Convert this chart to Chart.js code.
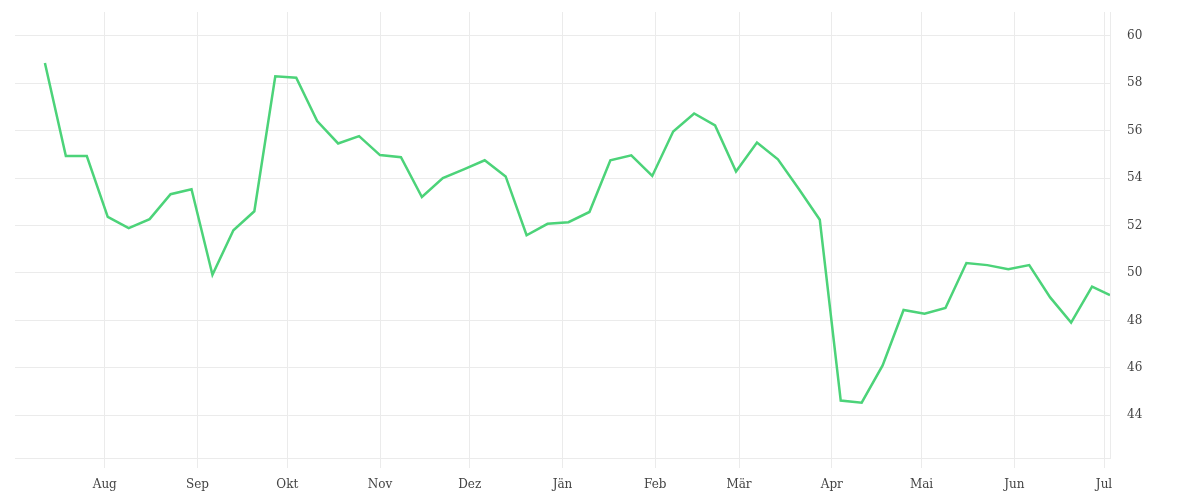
<!DOCTYPE html>
<html>
<head>
<meta charset="utf-8">
<script src="https://cdn.jsdelivr.net/npm/chart.js@4"></script>
<style>
  html, body { margin: 0; padding: 0; background: #ffffff; }
  #wrap { width: 1200px; height: 500px; position: relative; }
</style>
</head>
<body>
<div id="wrap"><canvas id="c"></canvas></div>
<script>
// ---- data ----
const dates = [
  '2022-07-12','2022-07-19','2022-07-26','2022-08-02','2022-08-09','2022-08-16','2022-08-23','2022-08-30',
  '2022-09-06','2022-09-13','2022-09-20','2022-09-27','2022-10-04','2022-10-11','2022-10-18','2022-10-25',
  '2022-11-01','2022-11-08','2022-11-15','2022-11-22','2022-11-29','2022-12-06','2022-12-13','2022-12-20',
  '2022-12-27','2023-01-03','2023-01-10','2023-01-17','2023-01-24','2023-01-31','2023-02-07','2023-02-14',
  '2023-02-21','2023-02-28','2023-03-07','2023-03-14','2023-03-21','2023-03-28','2023-04-04','2023-04-11',
  '2023-04-18','2023-04-25','2023-05-02','2023-05-09','2023-05-16','2023-05-23','2023-05-30','2023-06-06',
  '2023-06-13','2023-06-20','2023-06-27','2023-07-03'
];
const values = [
  58.85, 54.93, 54.93, 52.36, 51.89, 52.27, 53.32, 53.53,
  49.92, 51.80, 52.60, 58.29, 58.23, 56.40, 55.46, 55.77,
  54.97, 54.88, 53.20, 54.00, 54.37, 54.75, 54.07, 51.59,
  52.07, 52.14, 52.57, 54.75, 54.96, 54.09, 55.96, 56.72,
  56.22, 54.28, 55.50, 54.79, 53.54, 52.24, 44.62, 44.53,
  46.10, 48.44, 48.28, 48.52, 50.42, 50.33, 50.16, 50.33,
  48.97, 47.91, 49.42, 49.07
];
const monthStarts = ['2022-08-01','2022-09-01','2022-10-01','2022-11-01','2022-12-01','2023-01-01',
                     '2023-02-01','2023-03-01','2023-04-01','2023-05-01','2023-06-01','2023-07-01'];
const monthLabels = ['Aug','Sep','Okt','Nov','Dez','Jän','Feb','Mär','Apr','Mai','Jun','Jul'];
const xRange = ['2022-07-02','2023-07-03'];
const yTicks = [44, 46, 48, 50, 52, 54, 56, 58, 60];
const yRange = [42.2, 61];

// ---- helpers ----
const DAY = 86400000;
const ORIGIN = Date.parse('2022-08-01');
const toDay = s => (Date.parse(s) - ORIGIN) / DAY;

const points = dates.map((d, i) => ({ x: toDay(d), y: values[i] }));
const monthDays = monthStarts.map(toDay);

const gridColor = '#ebebeb';
const textColor = '#444444';
const font = { family: '"DejaVu Serif", "Liberation Serif", serif', size: 12 };

new Chart(document.getElementById('c'), {
  type: 'line',
  data: {
    datasets: [{
      data: points,
      borderColor: 'rgb(76, 211, 121)',
      borderWidth: 2.5,
      pointRadius: 0,
      pointHoverRadius: 0,
      tension: 0,
      fill: false
    }]
  },
  options: {
    responsive: true,
    maintainAspectRatio: false,
    animation: false,
    layout: { padding: { left: 15, top: 12, right: 0, bottom: 0 } },
    plugins: { legend: { display: false }, tooltip: { enabled: false } },
    scales: {
      x: {
        type: 'linear',
        min: toDay(xRange[0]),
        max: toDay(xRange[1]),
        afterBuildTicks: s => { s.ticks = monthDays.map(v => ({ value: v })); },
        afterFit: s => { s.height = 42; s.paddingLeft = 0; s.paddingRight = 0; },
        grid: { color: gridColor, lineWidth: 1, tickLength: 10, drawTicks: true },
        border: { display: true, color: gridColor },
        ticks: {
          autoSkip: false,
          maxRotation: 0,
          padding: 10,
          color: textColor,
          font: font,
          callback: v => {
            const i = monthDays.findIndex(m => Math.abs(m - v) < 0.01);
            return i >= 0 ? monthLabels[i] : '';
          }
        }
      },
      y: {
        type: 'linear',
        position: 'right',
        min: yRange[0],
        max: yRange[1],
        afterBuildTicks: s => { s.ticks = yTicks.map(v => ({ value: v })); },
        afterFit: s => { s.width = 90; s.paddingTop = 0; s.paddingBottom = 0; },
        grid: { color: gridColor, lineWidth: 1, drawTicks: false },
        border: { display: true, color: gridColor },
        ticks: {
          padding: 17,
          color: textColor,
          font: font,
          callback: v => String(v)
        }
      }
    }
  }
});
</script>
</body>
</html>
